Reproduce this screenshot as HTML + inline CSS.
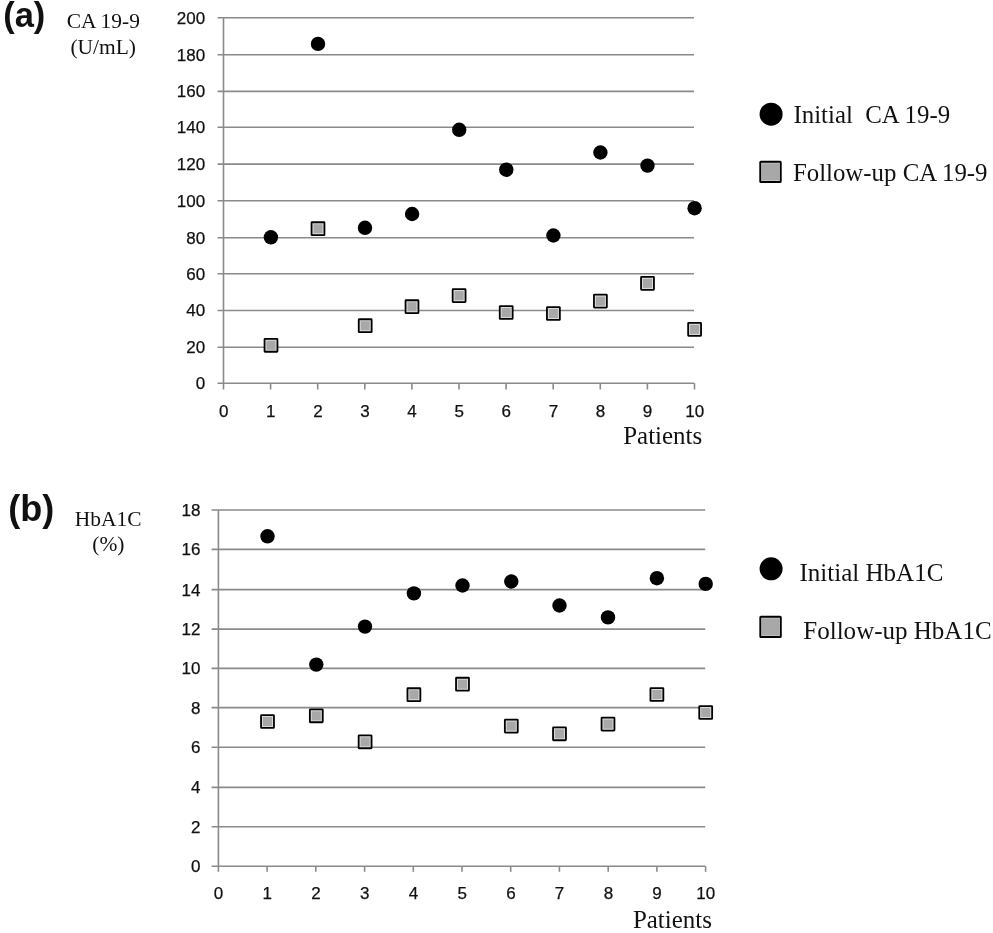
<!DOCTYPE html>
<html lang="en"><head><meta charset="utf-8"><title>Figure</title>
<style>
html,body{margin:0;padding:0;background:#fff;}
svg{display:block}
.num text{font-family:"Liberation Sans","DejaVu Sans",sans-serif;font-size:17px;fill:#111;stroke:#111;stroke-width:0.25px}
.ser{font-family:"Liberation Serif","DejaVu Serif",serif;fill:#111}
.pan{font-family:"Liberation Sans","DejaVu Sans",sans-serif;font-weight:bold;font-size:36px;fill:#111}
</style></head><body>
<svg width="993" height="933" viewBox="0 0 993 933">
<rect width="993" height="933" fill="#fff"/>
<!-- chart a -->
<g stroke="#8a8a8a" stroke-width="1.6" fill="none">
<line x1="217.6" y1="383.2" x2="694.0" y2="383.2"/>
<line x1="217.6" y1="347.3" x2="694.0" y2="347.3"/>
<line x1="217.6" y1="310.5" x2="694.0" y2="310.5"/>
<line x1="217.6" y1="273.7" x2="694.0" y2="273.7"/>
<line x1="217.6" y1="237.7" x2="694.0" y2="237.7"/>
<line x1="217.6" y1="200.8" x2="694.0" y2="200.8"/>
<line x1="217.6" y1="164.1" x2="694.0" y2="164.1"/>
<line x1="217.6" y1="127.3" x2="694.0" y2="127.3"/>
<line x1="217.6" y1="91.4" x2="694.0" y2="91.4"/>
<line x1="217.6" y1="54.7" x2="694.0" y2="54.7"/>
<line x1="217.6" y1="17.7" x2="694.0" y2="17.7"/>
<line x1="223.5" y1="17.7" x2="223.5" y2="389.5"/>
<line x1="270.6" y1="383.2" x2="270.6" y2="389.5"/>
<line x1="317.7" y1="383.2" x2="317.7" y2="389.5"/>
<line x1="364.8" y1="383.2" x2="364.8" y2="389.5"/>
<line x1="411.9" y1="383.2" x2="411.9" y2="389.5"/>
<line x1="459.0" y1="383.2" x2="459.0" y2="389.5"/>
<line x1="506.1" y1="383.2" x2="506.1" y2="389.5"/>
<line x1="553.2" y1="383.2" x2="553.2" y2="389.5"/>
<line x1="600.3" y1="383.2" x2="600.3" y2="389.5"/>
<line x1="647.4" y1="383.2" x2="647.4" y2="389.5"/>
<line x1="694.5" y1="383.2" x2="694.5" y2="389.5"/>
</g>
<g class="num">
<text x="205.2" y="389.1" text-anchor="end">0</text>
<text x="205.2" y="353.2" text-anchor="end">20</text>
<text x="205.2" y="316.4" text-anchor="end">40</text>
<text x="205.2" y="279.6" text-anchor="end">60</text>
<text x="205.2" y="243.6" text-anchor="end">80</text>
<text x="205.2" y="206.7" text-anchor="end">100</text>
<text x="205.2" y="170.0" text-anchor="end">120</text>
<text x="205.2" y="133.2" text-anchor="end">140</text>
<text x="205.2" y="97.3" text-anchor="end">160</text>
<text x="205.2" y="60.6" text-anchor="end">180</text>
<text x="205.2" y="23.6" text-anchor="end">200</text>
<text x="223.7" y="416.6" text-anchor="middle">0</text>
<text x="270.8" y="416.6" text-anchor="middle">1</text>
<text x="317.9" y="416.6" text-anchor="middle">2</text>
<text x="365.0" y="416.6" text-anchor="middle">3</text>
<text x="412.1" y="416.6" text-anchor="middle">4</text>
<text x="459.2" y="416.6" text-anchor="middle">5</text>
<text x="506.3" y="416.6" text-anchor="middle">6</text>
<text x="553.4" y="416.6" text-anchor="middle">7</text>
<text x="600.5" y="416.6" text-anchor="middle">8</text>
<text x="647.6" y="416.6" text-anchor="middle">9</text>
<text x="694.7" y="416.6" text-anchor="middle">10</text>
</g>
<rect x="264.55" y="338.85" width="12.9" height="12.9" rx="0.5" fill="#dadada" stroke="#000" stroke-width="1.8"/><rect x="266.50" y="340.80" width="9" height="9" fill="#a8a8a8"/>
<rect x="311.55" y="222.25" width="12.9" height="12.9" rx="0.5" fill="#dadada" stroke="#000" stroke-width="1.8"/><rect x="313.50" y="224.20" width="9" height="9" fill="#a8a8a8"/>
<rect x="358.75" y="319.25" width="12.9" height="12.9" rx="0.5" fill="#dadada" stroke="#000" stroke-width="1.8"/><rect x="360.70" y="321.20" width="9" height="9" fill="#a8a8a8"/>
<rect x="405.55" y="300.25" width="12.9" height="12.9" rx="0.5" fill="#dadada" stroke="#000" stroke-width="1.8"/><rect x="407.50" y="302.20" width="9" height="9" fill="#a8a8a8"/>
<rect x="452.65" y="289.15" width="12.9" height="12.9" rx="0.5" fill="#dadada" stroke="#000" stroke-width="1.8"/><rect x="454.60" y="291.10" width="9" height="9" fill="#a8a8a8"/>
<rect x="499.75" y="306.05" width="12.9" height="12.9" rx="0.5" fill="#dadada" stroke="#000" stroke-width="1.8"/><rect x="501.70" y="308.00" width="9" height="9" fill="#a8a8a8"/>
<rect x="546.95" y="307.05" width="12.9" height="12.9" rx="0.5" fill="#dadada" stroke="#000" stroke-width="1.8"/><rect x="548.90" y="309.00" width="9" height="9" fill="#a8a8a8"/>
<rect x="593.95" y="294.65" width="12.9" height="12.9" rx="0.5" fill="#dadada" stroke="#000" stroke-width="1.8"/><rect x="595.90" y="296.60" width="9" height="9" fill="#a8a8a8"/>
<rect x="641.05" y="276.95" width="12.9" height="12.9" rx="0.5" fill="#dadada" stroke="#000" stroke-width="1.8"/><rect x="643.00" y="278.90" width="9" height="9" fill="#a8a8a8"/>
<rect x="688.15" y="322.95" width="12.9" height="12.9" rx="0.5" fill="#dadada" stroke="#000" stroke-width="1.8"/><rect x="690.10" y="324.90" width="9" height="9" fill="#a8a8a8"/>
<circle cx="270.9" cy="237.3" r="7.2" fill="#000"/>
<circle cx="318.0" cy="43.9" r="7.2" fill="#000"/>
<circle cx="365.0" cy="227.8" r="7.2" fill="#000"/>
<circle cx="412.1" cy="214.0" r="7.2" fill="#000"/>
<circle cx="459.2" cy="129.8" r="7.2" fill="#000"/>
<circle cx="506.3" cy="169.7" r="7.2" fill="#000"/>
<circle cx="553.4" cy="235.5" r="7.2" fill="#000"/>
<circle cx="600.4" cy="152.5" r="7.2" fill="#000"/>
<circle cx="647.5" cy="165.6" r="7.2" fill="#000"/>
<circle cx="694.6" cy="208.2" r="7.2" fill="#000"/>
<!-- chart b -->
<g stroke="#8a8a8a" stroke-width="1.6" fill="none">
<line x1="211.6" y1="866.2" x2="705.2" y2="866.2"/>
<line x1="211.6" y1="826.8" x2="705.2" y2="826.8"/>
<line x1="211.6" y1="787.4" x2="705.2" y2="787.4"/>
<line x1="211.6" y1="747.2" x2="705.2" y2="747.2"/>
<line x1="211.6" y1="707.6" x2="705.2" y2="707.6"/>
<line x1="211.6" y1="668.4" x2="705.2" y2="668.4"/>
<line x1="211.6" y1="629.1" x2="705.2" y2="629.1"/>
<line x1="211.6" y1="589.6" x2="705.2" y2="589.6"/>
<line x1="211.6" y1="549.4" x2="705.2" y2="549.4"/>
<line x1="211.6" y1="510.0" x2="705.2" y2="510.0"/>
<line x1="218.4" y1="510.0" x2="218.4" y2="871.8"/>
<line x1="267.1" y1="866.2" x2="267.1" y2="871.8"/>
<line x1="315.8" y1="866.2" x2="315.8" y2="871.8"/>
<line x1="364.6" y1="866.2" x2="364.6" y2="871.8"/>
<line x1="413.3" y1="866.2" x2="413.3" y2="871.8"/>
<line x1="462.0" y1="866.2" x2="462.0" y2="871.8"/>
<line x1="510.7" y1="866.2" x2="510.7" y2="871.8"/>
<line x1="559.4" y1="866.2" x2="559.4" y2="871.8"/>
<line x1="608.2" y1="866.2" x2="608.2" y2="871.8"/>
<line x1="656.9" y1="866.2" x2="656.9" y2="871.8"/>
<line x1="705.6" y1="866.2" x2="705.6" y2="871.8"/>
</g>
<g class="num">
<text x="200.4" y="872.1" text-anchor="end">0</text>
<text x="200.4" y="832.7" text-anchor="end">2</text>
<text x="200.4" y="793.3" text-anchor="end">4</text>
<text x="200.4" y="753.1" text-anchor="end">6</text>
<text x="200.4" y="713.5" text-anchor="end">8</text>
<text x="200.4" y="674.3" text-anchor="end">10</text>
<text x="200.4" y="635.0" text-anchor="end">12</text>
<text x="200.4" y="595.5" text-anchor="end">14</text>
<text x="200.4" y="555.3" text-anchor="end">16</text>
<text x="200.4" y="515.9" text-anchor="end">18</text>
<text x="218.6" y="898.7" text-anchor="middle">0</text>
<text x="267.3" y="898.7" text-anchor="middle">1</text>
<text x="316.0" y="898.7" text-anchor="middle">2</text>
<text x="364.8" y="898.7" text-anchor="middle">3</text>
<text x="413.5" y="898.7" text-anchor="middle">4</text>
<text x="462.2" y="898.7" text-anchor="middle">5</text>
<text x="510.9" y="898.7" text-anchor="middle">6</text>
<text x="559.6" y="898.7" text-anchor="middle">7</text>
<text x="608.4" y="898.7" text-anchor="middle">8</text>
<text x="657.1" y="898.7" text-anchor="middle">9</text>
<text x="705.8" y="898.7" text-anchor="middle">10</text>
</g>
<rect x="261.05" y="715.05" width="12.9" height="12.9" rx="0.5" fill="#dadada" stroke="#000" stroke-width="1.8"/><rect x="263.00" y="717.00" width="9" height="9" fill="#a8a8a8"/>
<rect x="309.85" y="709.35" width="12.9" height="12.9" rx="0.5" fill="#dadada" stroke="#000" stroke-width="1.8"/><rect x="311.80" y="711.30" width="9" height="9" fill="#a8a8a8"/>
<rect x="358.65" y="735.35" width="12.9" height="12.9" rx="0.5" fill="#dadada" stroke="#000" stroke-width="1.8"/><rect x="360.60" y="737.30" width="9" height="9" fill="#a8a8a8"/>
<rect x="407.45" y="688.25" width="12.9" height="12.9" rx="0.5" fill="#dadada" stroke="#000" stroke-width="1.8"/><rect x="409.40" y="690.20" width="9" height="9" fill="#a8a8a8"/>
<rect x="456.05" y="677.75" width="12.9" height="12.9" rx="0.5" fill="#dadada" stroke="#000" stroke-width="1.8"/><rect x="458.00" y="679.70" width="9" height="9" fill="#a8a8a8"/>
<rect x="504.85" y="719.65" width="12.9" height="12.9" rx="0.5" fill="#dadada" stroke="#000" stroke-width="1.8"/><rect x="506.80" y="721.60" width="9" height="9" fill="#a8a8a8"/>
<rect x="553.05" y="727.35" width="12.9" height="12.9" rx="0.5" fill="#dadada" stroke="#000" stroke-width="1.8"/><rect x="555.00" y="729.30" width="9" height="9" fill="#a8a8a8"/>
<rect x="601.55" y="717.65" width="12.9" height="12.9" rx="0.5" fill="#dadada" stroke="#000" stroke-width="1.8"/><rect x="603.50" y="719.60" width="9" height="9" fill="#a8a8a8"/>
<rect x="650.45" y="688.05" width="12.9" height="12.9" rx="0.5" fill="#dadada" stroke="#000" stroke-width="1.8"/><rect x="652.40" y="690.00" width="9" height="9" fill="#a8a8a8"/>
<rect x="699.25" y="706.05" width="12.9" height="12.9" rx="0.5" fill="#dadada" stroke="#000" stroke-width="1.8"/><rect x="701.20" y="708.00" width="9" height="9" fill="#a8a8a8"/>
<circle cx="267.5" cy="536.3" r="7.2" fill="#000"/>
<circle cx="316.3" cy="664.6" r="7.2" fill="#000"/>
<circle cx="365.0" cy="626.6" r="7.2" fill="#000"/>
<circle cx="413.9" cy="593.4" r="7.2" fill="#000"/>
<circle cx="462.5" cy="585.5" r="7.2" fill="#000"/>
<circle cx="511.3" cy="581.5" r="7.2" fill="#000"/>
<circle cx="559.5" cy="605.5" r="7.2" fill="#000"/>
<circle cx="608.0" cy="617.4" r="7.2" fill="#000"/>
<circle cx="656.9" cy="578.2" r="7.2" fill="#000"/>
<circle cx="705.7" cy="583.9" r="7.2" fill="#000"/>
<text class="pan" x="3.2" y="26.9" style="font-size:34.5px">(a)</text>
<text class="pan" x="8.3" y="520.5">(b)</text>
<g class="ser" font-size="21.45" text-anchor="middle">
<text x="103.3" y="27.8">CA 19-9</text>
<text x="103.2" y="53.5">(U/mL)</text>
<text x="108.2" y="525.8">HbA1C</text>
<text x="108.4" y="551.1">(%)</text>
</g>
<g class="ser" font-size="24.95">
<text x="623.2" y="444.4">Patients</text>
<text x="632.9" y="927.5">Patients</text>
<text x="793.5" y="123.1" font-size="24.85" xml:space="preserve">Initial  CA 19-9</text>
<text x="792.9" y="180.8" font-size="24.85">Follow-up CA 19-9</text>
</g>
<g class="ser" font-size="25.03">
<text x="799.5" y="581.3">Initial HbA1C</text>
<text x="803.3" y="639.4">Follow-up HbA1C</text>
</g>
<circle cx="771.1" cy="114.2" r="11.5" fill="#000"/>
<rect x="760.25" y="161.7" width="20.5" height="20.3" rx="0.6" fill="#d0d0d0" stroke="#000" stroke-width="1.9"/><rect x="761.9" y="163.35" width="17.2" height="17" fill="#a8a8a8"/>
<circle cx="771.1" cy="568.8" r="11.5" fill="#000"/>
<rect x="760.3" y="616.75" width="20.5" height="20.3" rx="0.6" fill="#d0d0d0" stroke="#000" stroke-width="1.9"/><rect x="761.95" y="618.4" width="17.2" height="17" fill="#a8a8a8"/>
</svg>
</body></html>
